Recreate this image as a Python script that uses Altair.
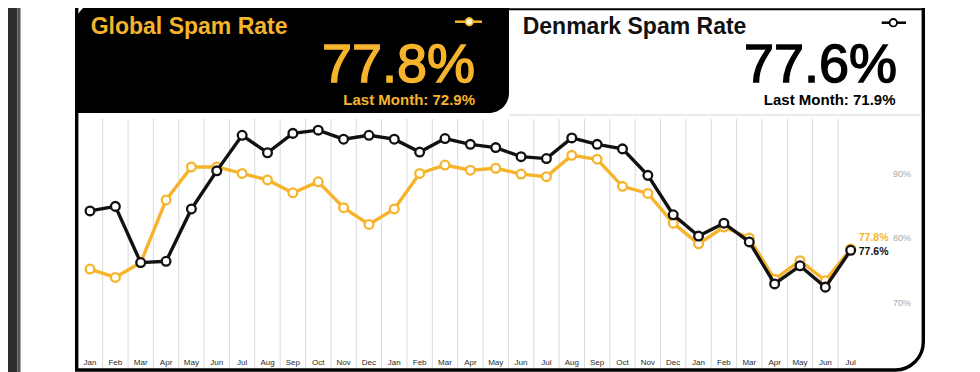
import altair as alt
import pandas as pd

# ---------------- data ----------------
months = ["Jan", "Feb", "Mar", "Apr", "May", "Jun", "Jul", "Aug", "Sep", "Oct", "Nov", "Dec",
          "Jan", "Feb", "Mar", "Apr", "May", "Jun", "Jul", "Aug", "Sep", "Oct", "Nov", "Dec",
          "Jan", "Feb", "Mar", "Apr", "May", "Jun", "Jul"]
global_rate = [74.7, 73.4, 75.7, 85.4, 90.5, 90.5, 89.5, 88.5, 86.5, 88.2, 84.2, 81.6,
               84.0, 89.5, 90.8, 90.0, 90.3, 89.4, 89.0, 92.3, 91.7, 87.5, 86.4, 81.8,
               78.6, 81.2, 79.5, 73.1, 76.0, 72.9, 77.8]
denmark_rate = [83.7, 84.4, 75.7, 75.9, 84.0, 89.9, 95.4, 92.7, 95.7, 96.2, 94.8, 95.4,
                94.8, 92.8, 94.9, 94.0, 93.5, 92.1, 91.8, 95.0, 94.0, 93.3, 89.2, 83.1,
                79.8, 81.8, 78.9, 72.4, 75.2, 71.9, 77.6]
series_names = ["Global", "Denmark"]
y_ticks = [70, 80, 90]
global_title = "Global Spam Rate"
denmark_title = "Denmark Spam Rate"

# ---------------- style ----------------
YELLOW = "#F6B42C"
BLACK = "#111111"
FONT = "Liberation Sans"

n = len(months)
df = pd.DataFrame({
    "idx": list(range(n)) * 2,
    "month": months * 2,
    "series": [series_names[0]] * n + [series_names[1]] * n,
    "value": global_rate + denmark_rate,
})
mdf = pd.DataFrame({"idx": list(range(n)), "month": months})
tick_df = pd.DataFrame({"value": y_ticks, "label": [f"{t}%" for t in y_ticks]})
dummy = pd.DataFrame({"a": [1]})

X = alt.Scale(domain=[0, n - 1], range=[82, 842.7])
Y = alt.Scale(domain=[60, 100], range=[356.0, 97.6])


def box(x, x2, y, y2, **kw):
    return alt.Chart(dummy).mark_rect(**kw).encode(
        x=alt.value(x), x2=alt.value(x2), y=alt.value(y), y2=alt.value(y2))


def hline(x, x2, y, color, width):
    return alt.Chart(dummy).mark_rule(color=color, strokeWidth=width).encode(
        x=alt.value(x), x2=alt.value(x2), y=alt.value(y))


def label(text, x, y, size, color, bold=False, align="left", thicken=0):
    kw = {}
    if thicken:
        kw = dict(stroke=color, strokeWidth=thicken)
    return alt.Chart(dummy).mark_text(
        text=text, fontSize=size, color=color, font=FONT,
        fontWeight="bold" if bold else "normal", align=align, baseline="alphabetic", **kw
    ).encode(x=alt.value(x), y=alt.value(y))


def dot(x, y, size, fill, stroke, sw):
    return alt.Chart(dummy).mark_point(
        shape="circle", filled=True, size=size, fill=fill, stroke=stroke,
        strokeWidth=sw, opacity=1).encode(x=alt.value(x), y=alt.value(y))


layers = []
# left dark strip
layers.append(box(0, 9.5, 0, 364, fill="#2e2e2e"))
layers.append(box(9.5, 12.5, 0, 364, fill="#555555"))
# frame
layers.append(box(68.7, 915.3, -6, 362, fill="white", stroke="black", strokeWidth=3.4,
                  cornerRadiusBottomRight=28))
layers.append(hline(500, 915.3, 1.2, "black", 2))
# black header box
layers.append(box(67, 501, -6, 105, fill="black", cornerRadiusTopLeft=24,
                  cornerRadiusBottomRight=20))
# separator
layers.append(hline(501, 913.6, 107, "#d6d6d6", 1))

# gridlines
layers.append(
    alt.Chart(mdf).transform_filter(alt.datum.idx < n - 1)
    .transform_calculate(gx="datum.idx + 0.5")
    .mark_rule(color="#d9d9d9", strokeWidth=1)
    .encode(x=alt.X("gx:Q", scale=X, axis=None), y=alt.value(111), y2=alt.value(360))
)

# header texts
layers.append(label(global_title, 82.7, 25.5, 23, YELLOW, bold=True))
layers.append(label(f"{global_rate[-1]}%", 467, 73.7, 54, YELLOW, align="right", thicken=1.4))
layers.append(label(f"Last Month: {global_rate[-2]}%", 467, 97.3, 15, YELLOW, bold=True, align="right"))
layers.append(label(denmark_title, 514.7, 26, 23, BLACK, bold=True))
layers.append(label(f"{denmark_rate[-1]}%", 889, 73.7, 54, "black", align="right", thicken=1.4))
layers.append(label(f"Last Month: {denmark_rate[-2]}%", 887.5, 97.3, 15, "black", bold=True, align="right"))

# legend icons
layers.append(hline(447, 474, 13.7, YELLOW, 2.5))
layers.append(dot(461.3, 13.7, 70, YELLOW, YELLOW, 1))
layers.append(dot(461.3, 13.7, 28, "#fffbea", "#fff3c4", 1))
layers.append(hline(873.7, 898, 14.7, "black", 2.5))
layers.append(dot(885.3, 14.7, 55, "white", "black", 1.8))

# series
base = alt.Chart(df)
for s, color in [(series_names[0], YELLOW), (series_names[1], BLACK)]:
    sub = base.transform_filter(alt.datum.series == s)
    enc = dict(x=alt.X("idx:Q", scale=X, axis=None), y=alt.Y("value:Q", scale=Y, axis=None))
    layers.append(sub.mark_line(color=color, strokeWidth=3.4).encode(**enc))
    layers.append(sub.mark_point(shape="circle", filled=True, fill="white", stroke=color,
                                 strokeWidth=2.3, size=76, opacity=1).encode(**enc))

# end labels
for s, color, dy in [(series_names[0], YELLOW, -10.7), (series_names[1], BLACK, 1.4)]:
    layers.append(
        base.transform_filter((alt.datum.series == s) & (alt.datum.idx == n - 1))
        .transform_calculate(lbl="format(datum.value, '.1f') + '%'")
        .mark_text(align="left", baseline="middle", dx=8, dy=dy, fontSize=10.5,
                   fontWeight="bold", color=color, font=FONT)
        .encode(x=alt.X("idx:Q", scale=X, axis=None),
                y=alt.Y("value:Q", scale=Y, axis=None), text="lbl:N")
    )

# month labels
layers.append(
    alt.Chart(mdf).mark_text(fontSize=8, color="#2a2a2a", baseline="middle", font=FONT)
    .encode(x=alt.X("idx:Q", scale=X, axis=None), y=alt.value(354.7), text="month:N")
)
# y tick labels
layers.append(
    alt.Chart(tick_df).mark_text(align="left", baseline="middle", dy=3.3, fontSize=9,
                                 color="#a8a8a8", font=FONT)
    .encode(x=alt.value(885), y=alt.Y("value:Q", scale=Y, axis=None), text="label:N")
)

chart = alt.layer(*layers).properties(
    width=930, height=364, padding=0,
    autosize=alt.AutoSizeParams(type="none"), background="white"
).configure_view(strokeWidth=0)

chart.save("out.html", embed_options={"renderer": "svg", "actions": False})
